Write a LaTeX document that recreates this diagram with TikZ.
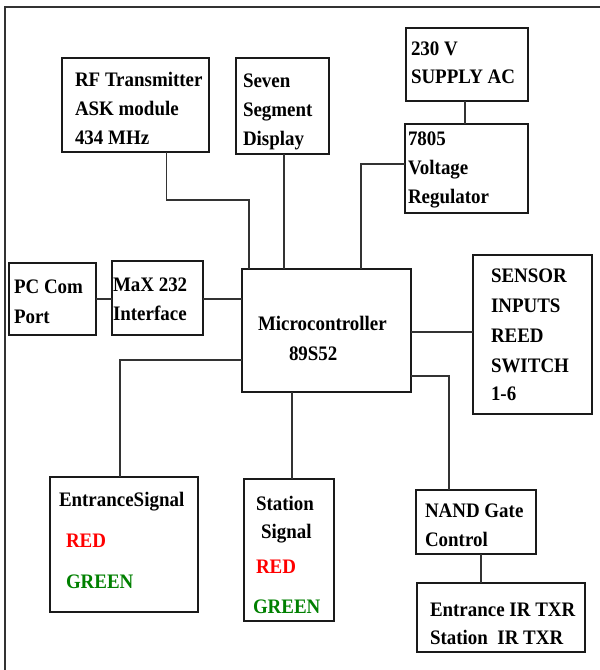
\documentclass[tikz,border=0pt]{standalone}
\usepackage{fontspec}
\setmainfont{Liberation Serif}[FakeStretch=0.92]
\definecolor{linec}{HTML}{333333}
\definecolor{boxc}{HTML}{1A1A1A}
\definecolor{sigred}{HTML}{FF0000}
\definecolor{siggreen}{HTML}{008000}
\tikzset{
  box/.style={draw=boxc, line width=1.4pt, anchor=north west, inner sep=0pt, outer sep=0pt},
  txt/.style={anchor=base west, inner sep=0pt, outer sep=0pt, font=\fontsize{20.6}{24}\selectfont\bfseries},
  wire/.style={draw=linec, line width=1.3pt},
  frame/.style={draw=linec, line width=1.8pt}
}
\newcommand{\bx}[5]{\node[box, minimum width=#4-#2, minimum height=#5-#3] (#1) at (#2,#3) {};}
\begin{document}
\begin{tikzpicture}[x=1pt,y=-1pt]
\useasboundingbox (0,0) rectangle (600,670);
% outer frame
\coordinate (ftl) at (5,7);
\coordinate (ftr) at (600,7);
\coordinate (fbl) at (5,670);
\draw[frame] (ftr) -- (ftl) -- (fbl);

% boxes
\bx{rf}{62}{58}{209}{152}
\bx{seg}{236}{58}{329}{154}
\bx{ac}{406}{28}{528}{101}
\bx{reg}{405}{124}{528}{213}
\bx{pc}{9}{263}{96}{335}
\bx{max}{112}{261}{203}{335}
\bx{mc}{242}{269}{411}{392}
\bx{sen}{473}{255}{592}{414}
\bx{ent}{50}{477}{198}{612}
\bx{sta}{244}{479}{334}{621}
\bx{nand}{416}{490}{536}{554}
\bx{ir}{417}{583}{585}{652}

% texts
\node[txt] (rf1) at (75,86) {RF Transmitter};
\node[txt] (rf2) at (75,115) {ASK module};
\node[txt] (rf3) at (75,144) {434 MHz};
\node[txt] (seg1) at (243,87) {Seven};
\node[txt] (seg2) at (243,116) {Segment};
\node[txt] (seg3) at (243,145) {Display};
\node[txt] (ac1) at (411,55) {230 V};
\node[txt] (ac2) at (411,83) {SUPPLY AC};
\node[txt] (reg1) at (408,145) {7805};
\node[txt] (reg2) at (408,174) {Voltage};
\node[txt] (reg3) at (408,203) {Regulator};
\node[txt] (pc1) at (14,293) {PC Com};
\node[txt] (pc2) at (14,323) {Port};
\node[txt] (max1) at (113,291) {MaX 232};
\node[txt] (max2) at (113,320) {Interface};
\node[txt] (mc1) at (258,330) {Microcontroller};
\node[txt] (mc2) at (289,360) {89S52};
\node[txt] (sen1) at (491,282) {SENSOR};
\node[txt] (sen2) at (491,312) {INPUTS};
\node[txt] (sen3) at (491,342) {REED};
\node[txt] (sen4) at (491,372) {SWITCH};
\node[txt] (sen5) at (491,400) {1-6};
\node[txt] (ent1) at (59,506) {EntranceSignal};
\node[txt, text=sigred] (ent2) at (66,547) {RED};
\node[txt, text=siggreen] (ent3) at (66,588) {GREEN};
\node[txt] (sta1) at (256,510) {Station};
\node[txt] (sta2) at (261,538) {Signal};
\node[txt, text=sigred] (sta3) at (256,573) {RED};
\node[txt, text=siggreen] (sta4) at (253,613) {GREEN};
\node[txt] (nand1) at (425,517) {NAND Gate};
\node[txt] (nand2) at (425,546) {Control};
\node[txt] (ir1) at (430,616) {Entrance IR TXR};
\node[txt] (ir2) at (430,644) {Station\ \ IR TXR};

% connector guide coordinates
\coordinate (xrf) at (166.5,0);
\coordinate (brf) at (249,200);
\coordinate (xseg) at (284,0);
\coordinate (xac) at (465,0);
\coordinate (yreg) at (0,164);
\coordinate (breg) at (361,164);
\coordinate (ypm) at (0,299);
\coordinate (ysen) at (0,332);
\coordinate (yent) at (0,360);
\coordinate (bent) at (120,360);
\coordinate (xsta) at (292,0);
\coordinate (ynand) at (0,376);
\coordinate (bnand) at (449,376);
\coordinate (xir) at (481,0);

% connectors
\draw[wire] (rf.south -| xrf) |- (brf) -- (brf |- mc.north);
\draw[wire] (seg.south -| xseg) -- (mc.north -| xseg);
\draw[wire] (ac.south -| xac) -- (reg.north -| xac);
\draw[wire] (reg.west |- yreg) -- (breg) -- (breg |- mc.north);
\draw[wire] (pc.east |- ypm) -- (max.west |- ypm);
\draw[wire] (max.east |- ypm) -- (mc.west |- ypm);
\draw[wire] (mc.east |- ysen) -- (sen.west |- ysen);
\draw[wire] (mc.west |- yent) -- (bent) -- (bent |- ent.north);
\draw[wire] (mc.south -| xsta) -- (sta.north -| xsta);
\draw[wire] (mc.east |- ynand) -- (bnand) -- (bnand |- nand.north);
\draw[wire] (nand.south -| xir) -- (ir.north -| xir);
\end{tikzpicture}
\end{document}
